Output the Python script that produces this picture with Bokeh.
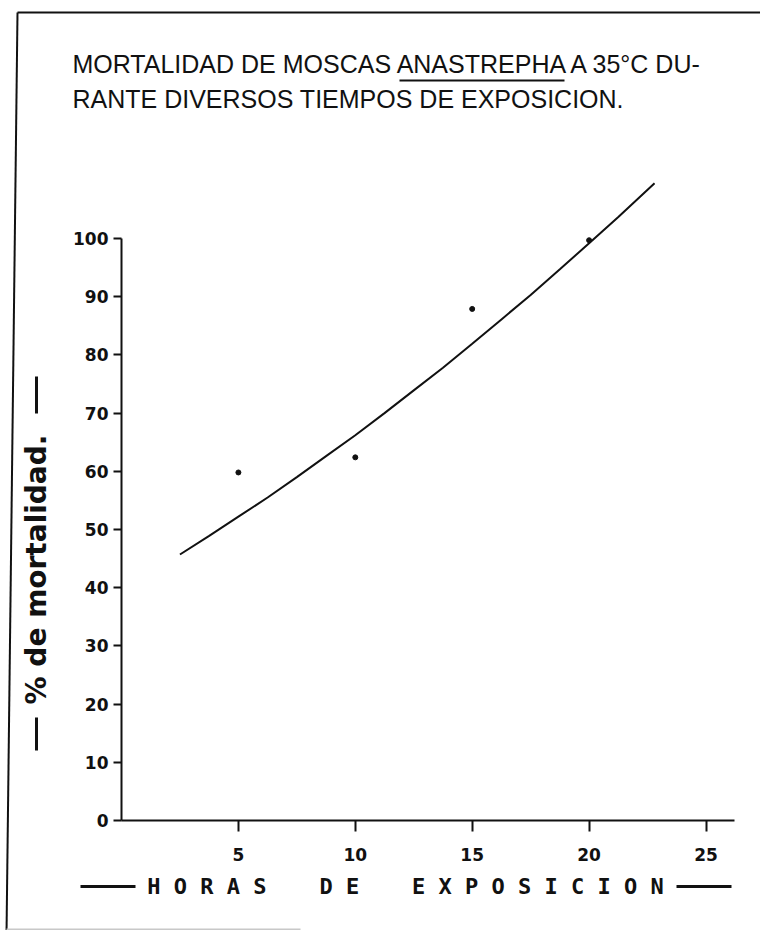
from bokeh.plotting import figure
from bokeh.models import Range1d, LinearAxis, FixedTicker, Label, Arrow
from bokeh.embed import file_html
from bokeh.resources import INLINE

# ---- data ----
hours = [5, 10, 15, 20]
mortality = [59.8, 62.4, 87.9, 99.7]
curve_hours = [2.5, 3.75, 5, 6.25, 7.5, 8.75, 10, 11.25, 12.5, 13.75, 15,
               16.25, 17.5, 18.75, 20, 21.25, 22.8]
curve_mortality = [45.7, 48.9, 52.2, 55.5, 59.0, 62.6, 66.2, 70.0, 73.9, 77.8, 81.9,
                   86.1, 90.3, 94.7, 99.2, 103.7, 109.5]
x_ticks = [5, 10, 15, 20, 25]
y_ticks = [0, 10, 20, 30, 40, 50, 60, 70, 80, 90, 100]
title_line1 = "MORTALIDAD DE MOSCAS ANASTREPHA A 35°C DU-"
title_line2 = "RANTE DIVERSOS TIEMPOS DE EXPOSICION."
y_label = "% de mortalidad."
NB = "\u00a0"
x_label = NB.join("HORAS") + NB * 4 + NB.join("DE") + NB * 4 + NB.join("EXPOSICION")

# ---- layout: the frame covers the whole canvas, axes are pinned at 0 ----
W, H = 760, 930
X0_PX, X_PX_PER = 121.0, 23.38     # pixel of x=0, pixels per hour
Y0_PX, Y_PX_PER = 820.0, 5.82      # pixel of y=0, pixels per percent
x_start = -X0_PX / X_PX_PER
x_end = x_start + W / X_PX_PER
y_start = -(H - Y0_PX) / Y_PX_PER
y_end = y_start + H / Y_PX_PER


def X(px):  # canvas pixel -> data x
    return x_start + px / X_PX_PER


def Y(py):  # canvas pixel -> data y
    return y_start + (H - py) / Y_PX_PER


p = figure(width=W, height=H, x_range=Range1d(x_start, x_end), y_range=Range1d(y_start, y_end),
           output_backend="svg", toolbar_location=None,
           x_axis_type=None, y_axis_type=None,
           min_border_left=0, min_border_right=0, min_border_top=0, min_border_bottom=0)
p.outline_line_color = None
p.background_fill_color = "white"
p.border_fill_color = "white"

axis_style = dict(axis_line_width=2, axis_line_color="#111111",
                  major_tick_line_width=2, major_tick_line_color="#111111",
                  major_tick_in=0, minor_tick_in=0, minor_tick_out=0,
                  major_label_text_font="DejaVu Sans", major_label_text_font_style="bold",
                  major_label_text_font_size="17px", major_label_text_color="#111111")

yaxis = LinearAxis(ticker=FixedTicker(ticks=y_ticks), bounds=(0, 100), fixed_location=0,
                   major_tick_out=8, major_label_standoff=5, **axis_style)
p.add_layout(yaxis, "left")
xaxis = LinearAxis(ticker=FixedTicker(ticks=x_ticks), bounds=(0, 26.2), fixed_location=0,
                   major_tick_out=11, major_label_standoff=16, **axis_style)
p.add_layout(xaxis, "below")

# fitted curve and observed points
p.line(curve_hours, curve_mortality, line_width=2, line_color="#111111")
p.scatter(hours, mortality, size=5, color="#111111")

# ---- texts ----
title_style = dict(text_align="left", text_baseline="middle", text_font="Liberation Sans",
                   text_font_size="25px", text_color="#111111")
p.add_layout(Label(x=X(72), y=Y(63), text=title_line1, **title_style))
p.add_layout(Label(x=X(72), y=Y(98), text=title_line2, **title_style))
p.add_layout(Label(x=X(36), y=Y(569), text=y_label, angle=90, angle_units="deg",
                   text_align="center", text_baseline="middle",
                   text_font="DejaVu Sans", text_font_style="bold", text_font_size="28px",
                   text_color="#111111"))
p.add_layout(Label(x=X(405), y=Y(886), text=x_label, text_align="center", text_baseline="middle",
                   text_font="DejaVu Sans Mono", text_font_style="bold", text_font_size="22px",
                   text_color="#111111"))


def seg(x0, y0, x1, y1, w=3, c="#111111"):
    p.add_layout(Arrow(end=None, x_start=X(x0), y_start=Y(y0), x_end=X(x1), y_end=Y(y1),
                       line_width=w, line_color=c))


# underline of ANASTREPHA
seg(399, 80, 564, 80, w=2)
# dashes around axis titles
seg(80, 886, 135, 886)
seg(676, 886, 731, 886)
seg(36, 376, 36, 413)
seg(36, 717, 36, 750)
# page frame of the scanned sheet
seg(17, 12, 764, 12, w=2)
seg(17, 12, 6, 935, w=2)
seg(6, 929, 300, 929, w=2, c="#c8c8c8")

open("out.html", "w").write(file_html(p, INLINE))
